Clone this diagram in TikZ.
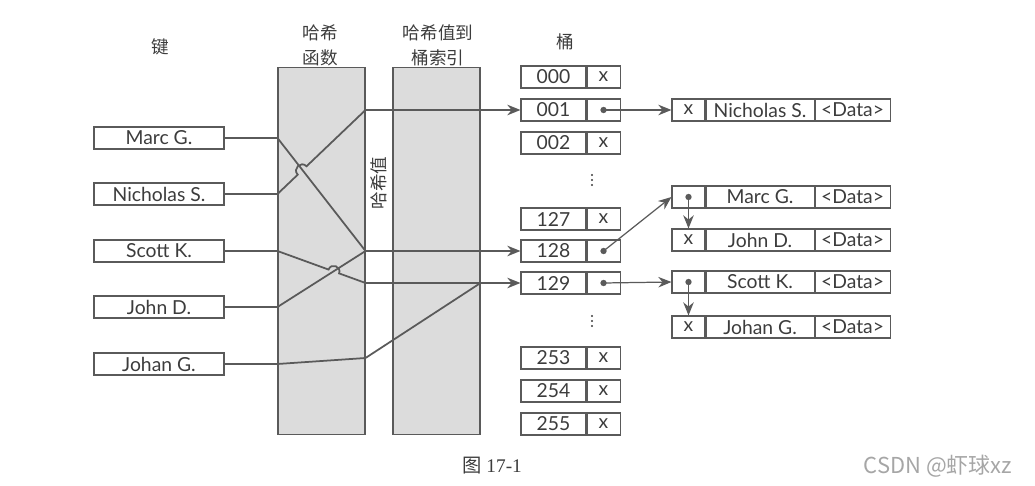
\documentclass[tikz,border=0pt]{standalone}
\usepackage{fontspec}
\setmainfont{Lato}
\newfontfamily\cjk{Noto Sans CJK SC}
\newfontfamily\capfont{Liberation Serif}
\usetikzlibrary{calc, positioning, arrows.meta}
\definecolor{ink}{RGB}{60,60,60}
\definecolor{edge}{RGB}{90,90,90}
\definecolor{panel}{RGB}{220,220,220}

\tikzset{
  cell/.style={draw=edge, line width=0.6pt, minimum height=0.44cm, inner sep=0pt, text=ink},
  keybox/.style={cell, minimum width=2.6cm},
  numcell/.style={cell, minimum width=1.3cm},
  xcell/.style={cell, minimum width=0.66cm},
  namecell/.style={cell, minimum width=2.16cm},
  datacell/.style={cell, minimum width=1.5cm},
  panelbox/.style={draw=edge, fill=panel, line width=0.6pt, minimum width=1.74cm, minimum height=7.36cm, inner sep=0pt},
  head/.style={text=ink, align=center, font=\cjk\fontsize{10}{14.2}\selectfont, inner sep=0pt},
  link/.style={draw=edge, line width=1pt},
  ptr/.style={draw=edge, line width=0.7pt},
}

\begin{document}
\begin{tikzpicture}[x=0.02cm, y=-0.02cm, >={Stealth[length=7.5pt,width=6pt]}, font=\fontsize{11}{13}\selectfont]
  \useasboundingbox (0,0) rectangle (1035,486);

  % the two grey panels
  \node[panelbox] (hf) at (321.5,251) {};
  \node[panelbox] (hb) at (436.5,251) {};
  \node[head, rotate=90] (hv) at (379,183) {哈希值};

  % headings
  \node[head] (hKey) at (160,47) {键};
  \node[head] (hFun) at (320,45) {哈希\\函数};
  \node[head] (hIdx) at (438,45) {哈希值到\\桶索引};
  \node[head] (hBkt) at (565,42) {桶};

  % keys
  \node[keybox] (kMarc)  at (159,138) {Marc G.};
  \node[keybox] (kNich)  at (159,194) {Nicholas S.};
  \node[keybox] (kScott) at (159,251) {Scott K.};
  \node[keybox] (kJohn)  at (159,307) {John D.};
  \node[keybox] (kJohan) at (159,364) {Johan G.};

  % buckets
  \foreach \n/\y/\cont in {000/77/x, 001/110/{}, 002/143/x, 127/219/x, 128/251/{}, 129/283/{}, 253/358/x, 254/391/x, 255/424/x}{
    \node[numcell] (b\n) at (553.5,\y) {\n};
    \node[xcell, right=0pt of b\n] (x\n) {\cont};
  }
  % elided rows
  \foreach \y in {180,321}
    \foreach \k in {-5,0,5}
      \fill[ink] (592,\y+\k) circle (0.6pt);

  % chained entries
  \foreach \nm/\y/\cont/\who in {Nich/110/x/Nicholas S., Marc/197/{}/Marc G., John/240/x/John D., Scott/282/{}/Scott K., Johan/327/x/Johan G.}{
    \node[xcell] (p\nm) at (688.5,\y) {\cont};
    \node[namecell, right=0pt of p\nm] (n\nm) {\who};
    \node[datacell, right=0pt of n\nm] (d\nm) {<Data>};
  }

  % keys through the hash function
  \coordinate (nIn) at (kNich.east -| hf.west);
  \coordinate (nOut) at (b001.west -| hf.east);
  \coordinate (sIn) at (kScott.east -| hf.west);
  \coordinate (sOut) at (b129.west -| hf.east);
  \draw[link] (kJohn.east) -- (kJohn.east -| hf.west) -- (b128.west -| hf.east);
  \draw[link] (kJohan.east) -- (kJohan.east -| hf.west) -- ($(kJohan.east -| hf.east)+(0,-6)$) -- (b129.west -| hb.east);
  \draw[link,->] (kMarc.east) -- (kMarc.east -| hf.west) -- (b128.west -| hf.east) -- (b128.west);
  \draw[link,->] (kNich.east) -- (nIn) -- ($(nIn)!0.23!(nOut)$) to[bend left=90, looseness=1.7] ($(nIn)!0.33!(nOut)$) -- (nOut) -- (b001.west);
  \draw[link,->] (kScott.east) -- (sIn) -- ($(sIn)!0.58!(sOut)$) to[bend left=90, looseness=1.7] ($(sIn)!0.70!(sOut)$) -- (sOut) -- (b129.west);

  % bucket pointers
  \draw[ptr,->] (x001.center) -- (pNich.west);
  \draw[ptr,->] (x128.center) -- (pMarc.west);
  \draw[ptr,->] (x129.center) -- (pScott.west);
  \draw[ptr,->] (pMarc.center) -- (pJohn.north);
  \draw[ptr,->] (pScott.center) -- (pJohan.north);
  \foreach \d in {x001,x128,x129,pMarc,pScott}
    \fill[edge] (\d) circle (1.8pt);

  % caption
  \node[text=ink, font=\fontsize{11}{13}\selectfont] (cap) at (492,466) {{\cjk 图} {\capfont 17-1}};
  \node[text=gray!70, font=\cjk\fontsize{12.5}{14}\selectfont] (wm) at (938,466) {CSDN @虾球xz};
\end{tikzpicture}
\end{document}
